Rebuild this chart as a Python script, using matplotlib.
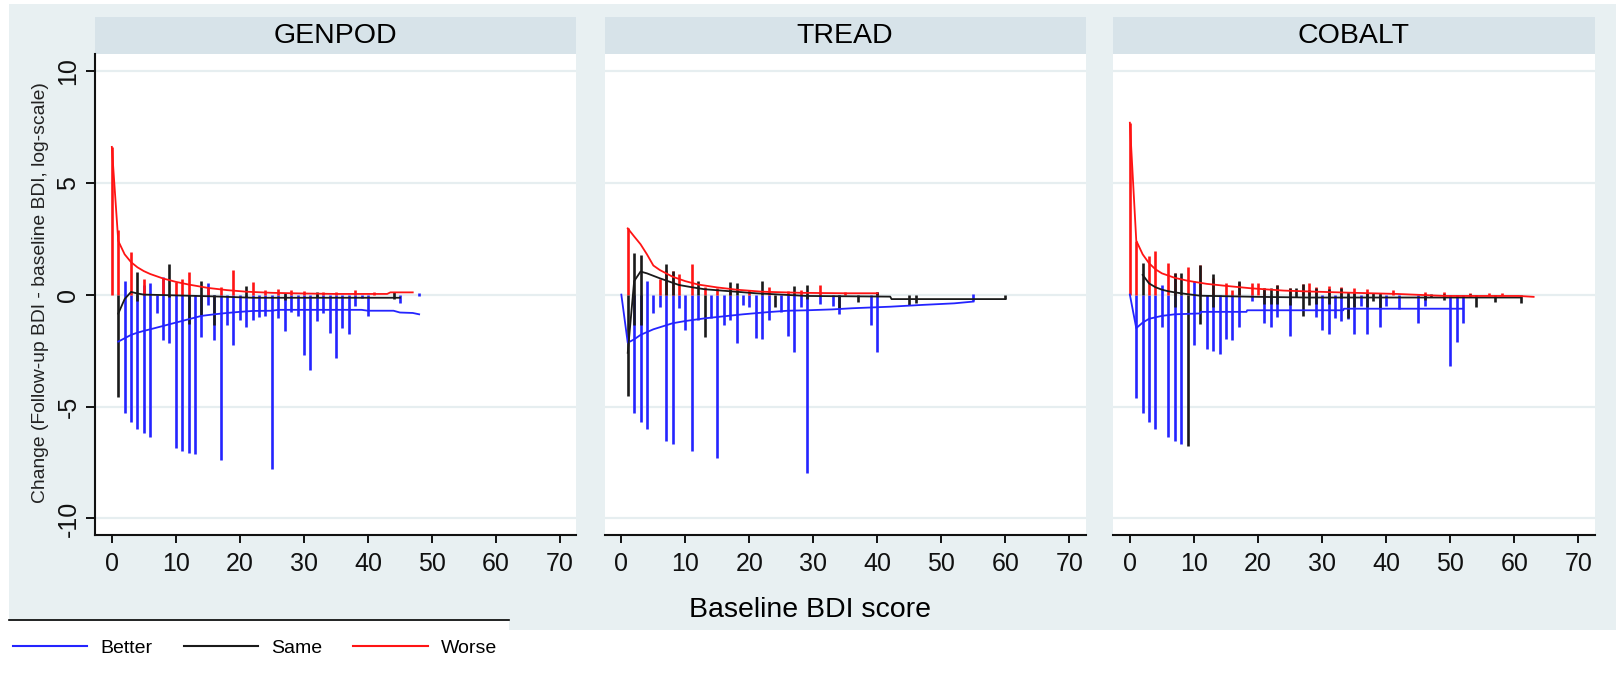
import matplotlib
matplotlib.use("Agg")
import matplotlib.pyplot as plt
from matplotlib.patches import Rectangle
from matplotlib.lines import Line2D

plt.rcParams['font.family'] = ['Liberation Sans', 'DejaVu Sans']
plt.rcParams['axes.unicode_minus'] = False

# ---------------- data ----------------
panels = ["GENPOD", "TREAD", "COBALT"]
series_names = ["Better", "Same", "Worse"]
x_ticks = [0, 10, 20, 30, 40, 50, 60, 70]
y_ticks = [-10, -5, 0, 5, 10]
x_label = "Baseline BDI score"
y_label = "Change (Follow-up BDI - baseline BDI, log-scale)"

# GENPOD
gen_better_x = [2, 3, 4, 5, 6, 7, 8, 9, 10, 11, 12, 13, 14, 15, 16, 17, 18, 19, 20, 21, 22, 23, 24,
                25, 26, 27, 28, 29, 30, 31, 32, 33, 34, 35, 36, 37, 38, 39, 40, 45, 48]
gen_better_lo = [-5.27, -5.67, -6.0, -6.2, -6.38, -0.83, -2.05, -2.17, -6.86, -7.0, -7.08, -7.13, -1.9,
                 -0.46, -2.02, -7.41, -1.35, -2.25, -1.13, -1.43, -1.13, -1.0, -0.95, -7.8, -1.04, -1.62,
                 -0.76, -0.95, -2.7, -3.39, -1.16, -0.83, -1.7, -2.84, -1.5, -1.77, -0.5, -0.16, -0.95,
                 -0.36, -0.05]
gen_better_hi = [0.63, 0, 0, 0.43, 0.54, 0, 0.77, 0, 0, 0, 0, 0, 0, 0.5, 0, 0, 0, 0, 0, 0, 0, 0, 0,
                 0, 0, 0, 0, 0, 0, 0, 0, 0, 0, 0, 0, 0, 0, 0, 0, 0, 0.05]
gen_better_line_x = [1, 2, 3, 4, 5, 6, 8, 10, 12, 14, 16, 18, 20, 22, 25, 26, 39, 40, 44, 45, 47, 48]
gen_better_line_y = [-2.1, -1.95, -1.8, -1.7, -1.62, -1.55, -1.4, -1.25, -1.1, -0.95, -0.88, -0.82,
                     -0.77, -0.73, -0.72, -0.68, -0.68, -0.72, -0.72, -0.8, -0.82, -0.88]
gen_same_x = [1, 4, 9, 12, 14, 16, 21, 27, 32, 44]
gen_same_lo = [-4.58, -0.3, -0.1, -1.3, -0.9, -1.35, -0.1, -0.25, -0.1, -0.2]
gen_same_hi = [0, 1.03, 1.37, 0, 0.63, 0, 0.39, 0.05, 0.1, 0.1]
gen_same_line_x = [1, 2, 3, 4, 5, 8, 12, 16, 22, 30, 45]
gen_same_line_y = [-0.85, -0.2, 0.12, 0.05, 0.0, -0.02, -0.05, -0.08, -0.14, -0.14, -0.14]
gen_worse_x = [0, 1, 3, 5, 8, 10, 11, 12, 15, 17, 19, 22, 24, 26, 28, 30, 33, 35, 38, 41]
gen_worse_hi = [6.6, 2.9, 1.9, 0.7, 0.76, 0.58, 0.7, 1.03, 0.3, 0.35, 1.1, 0.58, 0.2, 0.25, 0.2,
                0.15, 0.12, 0.1, 0.2, 0.1]
gen_worse_line_x = [0, 1, 2, 3, 4, 5, 6, 8, 10, 12, 15, 18, 21, 25, 30, 35, 43, 43.5, 47]
gen_worse_line_y = [6.6, 2.4, 1.8, 1.45, 1.22, 1.05, 0.92, 0.72, 0.57, 0.45, 0.3, 0.2, 0.13, 0.08,
                    0.05, 0.03, 0.03, 0.1, 0.1]

# TREAD
tre_better_x = [2, 3, 4, 5, 6, 7, 8, 9, 10, 11, 12, 14, 15, 16, 17, 18, 19, 20, 21, 22, 23, 25, 26,
                27, 28, 29, 31, 33, 34, 39, 40, 55]
tre_better_lo = [-5.27, -5.67, -6.0, -0.83, -0.54, -6.53, -6.68, -0.61, -1.58, -7.0, -1.13, -1.06,
                 -7.28, -1.35, -1.13, -2.17, -0.46, -0.54, -1.92, -1.98, -1.13, -0.76, -1.85, -2.57,
                 -0.54, -7.95, -0.4, -0.52, -0.85, -1.35, -2.57, -0.3]
tre_better_hi = [0, 0, 0.63, 0, 0, 0, 0, 0, 0, 0, 0, 0, 0, 0, 0, 0, 0, 0, 0, 0, 0, 0, 0,
                 0, 0, 0, 0, 0, 0, 0, 0.1, 0.02]
tre_better_line_x = [0, 1, 2, 3, 5, 8, 10, 13, 16, 19, 23, 26, 29, 33, 36, 42, 47, 52, 55]
tre_better_line_y = [0.0, -2.15, -2.0, -1.8, -1.55, -1.28, -1.18, -1.06, -0.97, -0.88, -0.78, -0.72,
                     -0.7, -0.66, -0.61, -0.54, -0.46, -0.39, -0.31]
tre_same_x = [1, 2, 3, 7, 8, 12, 13, 17, 18, 22, 24, 27, 29, 34, 37, 40, 45, 46, 60]
tre_same_lo = [-4.55, -1.35, -1.35, 0, 0, 0, -1.88, 0, 0, 0, -0.54, 0, -0.2, -0.61, -0.31, 0, -0.45,
               -0.36, -0.2]
tre_same_hi = [0, 1.85, 1.77, 1.37, 1.07, 0.63, 0, 0.58, 0.5, 0.63, 0, 0.4, 0.43, 0, 0, 0.13, 0, 0, 0]
tre_same_line_x = [1, 2, 3, 4, 6, 9, 11, 13, 17, 21, 29, 42, 42.2, 60]
tre_same_line_y = [-2.6, 0.6, 1.03, 0.95, 0.73, 0.43, 0.33, 0.24, 0.15, 0.06, -0.06, -0.09, -0.2, -0.2]
tre_worse_x = [1, 6, 7, 8, 9, 11, 13, 15, 17, 20, 23, 26, 28, 31, 35, 40]
tre_worse_hi = [2.96, 0.69, 1.1, 1.07, 0.93, 1.37, 0.35, 0.3, 0.3, 0.2, 0.36, 0.15, 0.2, 0.43, 0.1, 0.12]
tre_worse_line_x = [1, 2, 3, 4, 5, 6, 8, 10, 12, 15, 18, 22, 28, 35, 40]
tre_worse_line_y = [2.96, 2.6, 2.25, 1.8, 1.3, 1.1, 0.8, 0.6, 0.45, 0.32, 0.22, 0.13, 0.08, 0.06, 0.06]

# COBALT
cob_better_x = [1, 2, 3, 4, 5, 6, 7, 8, 10, 12, 13, 14, 15, 16, 17, 19, 21, 22, 23, 25, 29, 30, 31,
                32, 33, 34, 35, 36, 37, 39, 40, 42, 45, 46, 50, 51, 52]
cob_better_lo = [-4.6, -5.27, -5.67, -6.0, -1.43, -6.38, -6.53, -6.68, -2.25, -2.44, -2.51, -2.65,
                 -1.98, -2.05, -1.43, -0.28, -1.25, -1.43, -1.0, -1.83, -1.0, -1.58, -1.76, -1.05,
                 -1.16, -1.09, -1.76, -0.53, -1.76, -1.43, -0.53, -0.65, -1.25, -0.5, -3.17, -2.13,
                 -1.25]
cob_better_hi = [0, 0, 0, 0, 0.43, 0, 0.85, 0, 0.6, 0, 0, 0, 0, 0, 0, 0, 0, 0, 0, 0, 0, 0, 0,
                 0, 0, 0, 0, 0, 0, 0, 0, 0, 0, 0, 0, 0, 0]
cob_better_line_x = [0, 1, 2, 3, 5, 7, 11, 11.1, 18.2, 18.3, 33.3, 33.4, 52]
cob_better_line_y = [0.0, -1.5, -1.25, -1.08, -0.95, -0.88, -0.84, -0.77, -0.77, -0.7, -0.7, -0.63, -0.63]
cob_same_x = [2, 7, 8, 9, 11, 13, 17, 21, 22, 23, 25, 26, 27, 28, 29, 31, 33, 34, 35, 37, 38, 39,
              46, 47, 49, 53, 54, 57, 61]
cob_same_lo = [0, -0.54, 0, -6.78, -1.31, -0.54, 0, -0.4, -0.4, -0.4, -0.46, -0.1, -0.94, -0.46,
               -0.43, -0.43, -0.16, -1.06, -0.54, -0.57, -0.3, -0.61, -0.24, -0.1, -0.24, -0.1,
               -0.57, -0.31, -0.36]
cob_same_hi = [1.43, 0.95, 0.95, 0, 1.31, 0.9, 0.6, 0.28, 0.28, 0.43, 0.28, 0.28, 0.48, 0.2, 0.28,
               0.24, 0.28, 0.13, 0.06, 0.06, 0.06, 0.06, 0.02, 0.02, 0.02, 0.02, 0, 0, 0]
cob_same_line_x = [2, 3, 4, 5, 6, 7, 9, 11, 20, 28, 61]
cob_same_line_y = [0.88, 0.5, 0.33, 0.22, 0.15, 0.1, 0.02, -0.05, -0.1, -0.13, -0.13]
cob_worse_x = [0, 1, 3, 4, 6, 7, 9, 11, 13, 15, 16, 17, 19, 20, 21, 23, 25, 27, 28, 29, 31, 33, 35,
               37, 41, 46, 49, 53, 56, 58]
cob_worse_hi = [7.68, 2.4, 1.73, 1.96, 1.43, 0.95, 1.25, 1.31, 0.73, 0.54, 0.21, 0.58, 0.5, 0.5,
                0.28, 0.43, 0.28, 0.48, 0.5, 0.35, 0.4, 0.35, 0.3, 0.25, 0.2, 0.1, 0.1, 0.08, 0.08, 0.06]
cob_worse_line_x = [0, 1, 2, 3, 4, 5, 7, 9, 12, 15, 19, 24, 28, 33.7, 41.7, 49.2, 60.7, 63]
cob_worse_line_y = [7.68, 2.41, 1.8, 1.4, 1.13, 0.95, 0.75, 0.62, 0.48, 0.39, 0.28, 0.18, 0.14, 0.09,
                    0.03, -0.06, -0.06, -0.1]

panel_data = [
    dict(bx=gen_better_x, blo=gen_better_lo, bhi=gen_better_hi, blx=gen_better_line_x, bly=gen_better_line_y,
         sx=gen_same_x, slo=gen_same_lo, shi=gen_same_hi, slx=gen_same_line_x, sly=gen_same_line_y,
         wx=gen_worse_x, whi=gen_worse_hi, wlx=gen_worse_line_x, wly=gen_worse_line_y),
    dict(bx=tre_better_x, blo=tre_better_lo, bhi=tre_better_hi, blx=tre_better_line_x, bly=tre_better_line_y,
         sx=tre_same_x, slo=tre_same_lo, shi=tre_same_hi, slx=tre_same_line_x, sly=tre_same_line_y,
         wx=tre_worse_x, whi=tre_worse_hi, wlx=tre_worse_line_x, wly=tre_worse_line_y),
    dict(bx=cob_better_x, blo=cob_better_lo, bhi=cob_better_hi, blx=cob_better_line_x, bly=cob_better_line_y,
         sx=cob_same_x, slo=cob_same_lo, shi=cob_same_hi, slx=cob_same_line_x, sly=cob_same_line_y,
         wx=cob_worse_x, whi=cob_worse_hi, wlx=cob_worse_line_x, wly=cob_worse_line_y),
]

# ---------------- styling ----------------
W, H = 1621, 682
BG = "#e8f0f2"
STRIP = "#d7e3e9"
GRID = "#e6eef0"
C_BETTER = "#2424ff"
C_SAME = "#1a1a1a"
C_WORSE = "#ff1414"


def fx(px):
    return px / W


def fy(py):
    return 1 - py / H


fig = plt.figure(figsize=(W / 100, H / 100), dpi=100)
fig.patch.set_facecolor("white")

fig.patches.append(Rectangle((fx(9), fy(630)), fx(1616) - fx(9), fy(4) - fy(630),
                             transform=fig.transFigure, facecolor=BG, edgecolor="none", zorder=0))
fig.patches.append(Rectangle((0, 0), fx(509), fy(620.5), transform=fig.transFigure,
                             facecolor="white", edgecolor="none", zorder=0.5))
fig.add_artist(Line2D([fx(9), fx(509)], [fy(620), fy(620)], transform=fig.transFigure,
                      color="black", lw=1.2, zorder=1))

panel_lr = [(95, 576), (604.5, 1085.5), (1113, 1594.5)]
top_px, bot_px = 54, 535
xlim = (-2.63, 72.5)
ylim = (-10.74, 10.75)

for i, (name, (l, r), d) in enumerate(zip(panels, panel_lr, panel_data)):
    fig.patches.append(Rectangle((fx(l), fy(53.5)), fx(r) - fx(l), fy(17) - fy(53.5),
                                 transform=fig.transFigure, facecolor=STRIP, edgecolor="none", zorder=1))
    fig.text(fx((l + r) / 2), fy(42.7), name, ha="center", va="baseline", fontsize=20.5, color="black",
             zorder=3)

    ax = fig.add_axes([fx(l), fy(bot_px), (r - l) / W, (bot_px - top_px) / H])
    ax.set_zorder(2)
    ax.set_facecolor("white")
    ax.set_xlim(*xlim)
    ax.set_ylim(*ylim)
    ax.set_xticks(x_ticks)
    ax.set_yticks(y_ticks)
    ax.grid(axis="y", color=GRID, lw=1.6)
    ax.grid(axis="x", visible=False)
    ax.set_axisbelow(True)
    for s in ["top", "right"]:
        ax.spines[s].set_visible(False)
    ax.spines["bottom"].set_linewidth(1.5)
    ax.spines["bottom"].set_color("#111111")
    ax.tick_params(axis="x", direction="out", length=6, width=1.4, labelsize=18, pad=6.5, colors="#111111")
    if i == 0:
        ax.spines["left"].set_linewidth(1.5)
        ax.spines["left"].set_color("#111111")
        ax.tick_params(axis="y", direction="out", length=6.5, width=1.4, labelsize=18, pad=4,
                       colors="#111111")
        for lab in ax.get_yticklabels():
            lab.set_rotation(90)
            lab.set_va("center")
    else:
        ax.spines["left"].set_visible(False)
        ax.tick_params(axis="y", left=False, labelleft=False)

    # spikes
    ax.vlines(d["bx"], d["blo"], d["bhi"], colors=C_BETTER, lw=1.9, zorder=3)
    ax.vlines(d["sx"], d["slo"], d["shi"], colors=C_SAME, lw=1.9, zorder=3.2)
    ax.vlines(d["wx"], [0] * len(d["wx"]), d["whi"], colors=C_WORSE, lw=1.9, zorder=3.1)
    # lines
    ax.plot(d["blx"], d["bly"], color=C_BETTER, lw=1.3, zorder=4)
    ax.plot(d["slx"], d["sly"], color=C_SAME, lw=1.3, zorder=4.1)
    ax.plot(d["wlx"], d["wly"], color=C_WORSE, lw=1.3, zorder=4.2)

fig.text(fx(41), fy(293), y_label, rotation=90, ha="center", va="center", fontsize=13.9, color="#222222")
fig.text(fx(810), fy(617), x_label, ha="center", va="baseline", fontsize=20.5, color="black")

handles = [Line2D([], [], color=c, lw=1.5) for c in (C_BETTER, C_SAME, C_WORSE)]
fig.legend(handles, series_names, loc="center left", bbox_to_anchor=(fx(13), fy(648)),
           ncol=3, frameon=False, fontsize=14, handlelength=3.83, handletextpad=0.67,
           columnspacing=1.6, borderpad=0, borderaxespad=0)

fig.savefig("out.png", dpi=100)
